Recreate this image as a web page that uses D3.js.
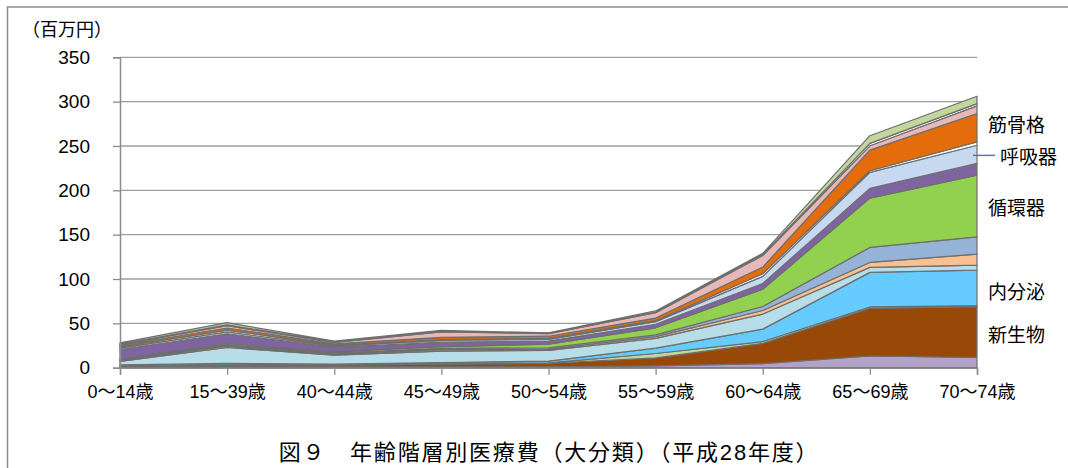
<!DOCTYPE html>
<html lang="ja">
<head>
<meta charset="utf-8">
<script src="https://cdn.jsdelivr.net/npm/d3@7"></script>
<style>
  html, body { margin: 0; padding: 0; background: #ffffff; }
  svg { display: block; }
  text { font-family: "Liberation Sans", "Noto Sans CJK JP", sans-serif; fill: #000; }
  .jp { font-family: "Noto Sans CJK JP", sans-serif; }
</style>
</head>
<body>
<script>
// 年齢階層別医療費（大分類） 単位：百万円
const categories = ["0～14歳", "15～39歳", "40～44歳", "45～49歳", "50～54歳", "55～59歳", "60～64歳", "65～69歳", "70～74歳"];

const 感染症 = [1.0, 1.5, 1.0, 1.0, 1.0, 2.0, 4.5, 13.2, 11.5];
const 新生物 = [1.0, 1.5, 2.0, 3.0, 4.0, 9.0, 23.0, 53.8, 57.3];
const 血液 = [0.3, 0.3, 0.2, 0.3, 0.5, 5.0, 2.0, 1.5, 1.3];
const 内分泌 = [0.8, 1.5, 1.0, 1.5, 2.0, 6.0, 14.0, 39.0, 40.0];
const 精神 = [4.0, 18.0, 10.0, 13.0, 12.0, 11.0, 17.0, 5.6, 5.6];
const 神経 = [1.0, 1.5, 1.2, 1.5, 1.5, 2.0, 4.0, 5.6, 12.4];
const 眼耳 = [0.8, 1.5, 1.0, 1.5, 1.5, 2.0, 4.5, 16.9, 19.5];
const 循環器 = [0.8, 1.5, 1.5, 2.0, 4.0, 8.0, 19.5, 55.7, 69.5];
const 消化器 = [10.8, 11.0, 5.0, 5.0, 3.5, 4.0, 6.5, 10.9, 13.2];
const 呼吸器 = [1.5, 2.0, 1.5, 2.0, 2.0, 3.0, 8.0, 18.0, 20.5];
const 皮膚 = [1.5, 2.0, 1.0, 1.0, 1.0, 1.0, 3.0, 1.9, 3.8];
const 筋骨格 = [1.5, 2.5, 1.5, 2.5, 2.5, 3.0, 7.5, 23.3, 32.0];
const 腎尿路 = [1.0, 2.5, 1.5, 6.0, 3.0, 6.0, 13.0, 4.8, 8.6];
const 先天 = [0.5, 1.0, 0.5, 0.5, 0.3, 0.5, 1.0, 2.7, 2.6];
const 損傷 = [1.5, 2.5, 1.0, 1.2, 0.5, 1.5, 1.5, 8.7, 8.3];

const seriesNames = ["感染症", "新生物", "血液", "内分泌", "精神", "神経", "眼耳", "循環器", "消化器", "呼吸器", "皮膚", "筋骨格", "腎尿路", "先天", "損傷"];
const seriesValues = [感染症, 新生物, 血液, 内分泌, 精神, 神経, 眼耳, 循環器, 消化器, 呼吸器, 皮膚, 筋骨格, 腎尿路, 先天, 損傷];
const seriesColors = ["#b3a2c7", "#984807", "#c3d69b", "#66ccff", "#b7dee8", "#fac090", "#95b3d7", "#92d050", "#8064a2", "#c6d9f1", "#ffffff", "#e46c0a", "#e6b9b8", "#ffffff", "#c3d69b"];

const yTicks = [0, 50, 100, 150, 200, 250, 300, 350];
const unitLabel = "（百万円）";
const titleText = "図９　年齢階層別医療費（大分類）（平成28年度）";

// 右端に名前を添える系列（縦位置の微調整つき）
const labelled = ["新生物", "内分泌", "循環器", "呼吸器", "筋骨格"];
const labelNudge = { 新生物: 1, 内分泌: 3, 循環器: 1, 呼吸器: 1, 筋骨格: -4 };

const W = 1068, H = 468;
const svg = d3.select("body").append("svg").attr("width", W).attr("height", H);

// 外枠
svg.append("rect")
  .attr("x", 7.5).attr("y", 7).attr("width", 1200).attr("height", 600)
  .attr("fill", "none").attr("stroke", "#8c8c8c").attr("stroke-width", 1.5);

const x = d3.scalePoint().domain(categories).range([120, 977]);
const y = d3.scaleLinear().domain([0, 350]).range([367.7, 57.3]);

// 行データ
const rows = categories.map((c, i) => {
  const r = { category: c };
  seriesNames.forEach((n, k) => { r[n] = seriesValues[k][i]; });
  return r;
});
const stacked = d3.stack().keys(seriesNames)(rows);

// 目盛線
svg.append("g").selectAll("line").data(yTicks.filter(t => t > 0)).join("line")
  .attr("x1", 120).attr("x2", 977)
  .attr("y1", d => y(d)).attr("y2", d => y(d))
  .attr("stroke", "#9e9e9e").attr("stroke-width", 1.3);

// 積み上げ面
const area = d3.area()
  .x(d => x(d.data.category))
  .y0(d => y(d[0]))
  .y1(d => y(d[1]));

svg.append("g").selectAll("path").data(stacked).join("path")
  .attr("d", area)
  .attr("fill", (d, i) => seriesColors[i])
  .attr("stroke", "#6e6e6e")
  .attr("stroke-width", 1.2)
  .attr("stroke-linejoin", "round");

// Y軸
const yAxis = d3.axisLeft(y).tickValues(yTicks).tickSize(7).tickPadding(23);
const gy = svg.append("g").attr("transform", "translate(120,0)").call(yAxis);
gy.select(".domain").attr("stroke", "#8c8c8c").attr("stroke-width", 1.5);
gy.selectAll(".tick line").attr("stroke", "#8c8c8c").attr("stroke-width", 1.3);
gy.selectAll(".tick text")
  .attr("font-family", "Liberation Sans, sans-serif")
  .attr("font-size", 19).attr("fill", "#000");

// X軸
const xAxis = d3.axisBottom(x).tickSize(7).tickPadding(11);
const gx = svg.append("g").attr("transform", `translate(0,${y(0)})`).call(xAxis);
gx.select(".domain").attr("stroke", "#8c8c8c").attr("stroke-width", 1.5);
gx.selectAll(".tick line").attr("stroke", "#8c8c8c").attr("stroke-width", 1.3);
gx.selectAll(".tick text")
  .attr("font-family", "Liberation Sans, Noto Sans CJK JP, sans-serif")
  .attr("font-size", 18).attr("fill", "#000");

// 単位
svg.append("text").attr("class", "jp")
  .attr("x", 22).attr("y", 28).attr("dominant-baseline", "central")
  .attr("font-size", 18).text(unitLabel);

// 系列名
const last = stacked.map(s => s[s.length - 1]);
labelled.forEach(name => {
  const k = seriesNames.indexOf(name);
  const seg = last[k];
  const cy = y((seg[0] + seg[1]) / 2) + labelNudge[name];
  const lx = name === "呼吸器" ? 1000 : 988;
  svg.append("text").attr("class", "jp")
    .attr("x", lx).attr("y", cy).attr("dominant-baseline", "central")
    .attr("font-size", 19).text(name);
  if (name === "呼吸器") {
    svg.append("line")
      .attr("x1", 973).attr("x2", 995).attr("y1", cy).attr("y2", cy)
      .attr("stroke", "#4a7ebb").attr("stroke-width", 1.5);
  }
});

// 表題
svg.append("text")
  .attr("x", 549).attr("y", 452).attr("text-anchor", "middle").attr("dominant-baseline", "central")
  .attr("font-family", "Liberation Sans, Noto Sans CJK JP, sans-serif")
  .attr("font-size", 22).attr("letter-spacing", 1.8)
  .text(titleText);
</script>
</body>
</html>
